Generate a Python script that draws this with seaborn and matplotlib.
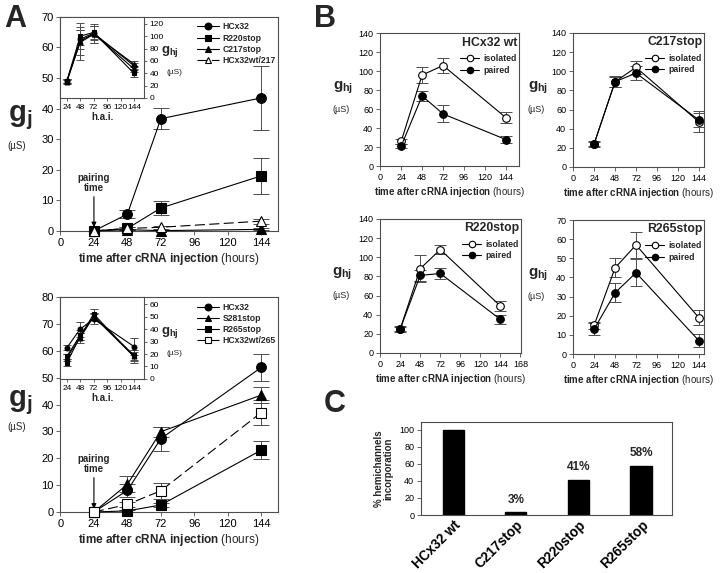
import numpy as np
import matplotlib
matplotlib.use("Agg")
import matplotlib.pyplot as plt
import seaborn as sns

# ---- data ----
hours = [24, 48, 72, 144]

# panel A top: gj (uS)
a1_hcx32 = [0, 5.5, 36.7, 43.5]
a1_hcx32_err = [0, 1.3, 3.5, 10.5]
a1_r220 = [0, 0.8, 7.5, 18.0]
a1_r220_err = [0, 0.5, 2.2, 5.8]
a1_c217 = [0, 0.4, 0.1, 0.5]
a1_c217_err = [0, 0.2, 0.1, 0.3]
a1_wt217 = [0, 0.8, 1.2, 3.2]
a1_wt217_err = [0, 0.4, 0.5, 0.8]
a1_labels = ["HCx32", "R220stop", "C217stop", "HCx32wt/217"]

# panel A top inset: ghj (uS)
a1i_hcx32 = [27, 95, 105, 52]
a1i_r220 = [27, 100, 106, 40]
a1i_c217 = [26, 92, 104, 47]
a1i_wt217 = [27, 90, 103, 55]
a1i_err = [[3, 15, 12, 5], [3, 14, 10, 6], [3, 30, 15, 5], [3, 20, 14, 5]]

# panel A bottom: gj (uS)
a2_hcx32 = [0, 8.0, 27.3, 53.8]
a2_hcx32_err = [0, 2.5, 4.5, 5.0]
a2_s281 = [0, 10.3, 29.9, 43.5]
a2_s281_err = [0, 3.0, 1.8, 3.0]
a2_r265 = [0, 0.4, 2.6, 23.0]
a2_r265_err = [0, 0.3, 0.8, 3.4]
a2_wt265 = [0, 2.8, 7.9, 37.0]
a2_wt265_err = [0, 1.0, 3.0, 4.8]
a2_labels = ["HCx32", "S281stop", "R265stop", "HCx32wt/265"]

# panel A bottom inset: ghj (uS)
a2i_hcx32 = [25, 40, 48, 26]
a2i_s281 = [17, 33, 50, 18]
a2i_r265 = [13, 34, 52, 18]
a2i_wt265 = [18, 35, 50, 19]
a2i_err = [[2, 6, 4, 7], [3, 4, 3, 4], [3, 3, 4, 5], [2, 4, 3, 4]]

# panel B: ghj (uS), isolated vs paired
b_names = ["HCx32 wt", "C217stop", "R220stop", "R265stop"]
b_isolated = [[26, 96, 106, 51], [24, 89, 104, 47], [25, 88, 108, 49], [15, 45, 57, 19]]
b_isolated_err = [[3, 8, 8, 6], [3, 6, 7, 11], [3, 14, 5, 5], [2, 5, 7, 4]]
b_paired = [[21, 74, 55, 28], [24, 89, 98, 49], [25, 81, 83, 35], [13, 32, 42.5, 7]]
b_paired_err = [[2, 5, 9, 4], [2, 5, 7, 7], [2, 6, 6, 5], [3, 5, 7, 3.5]]

# panel C
c_names = ["HCx32 wt", "C217stop", "R220stop", "R265stop"]
c_values = [100, 3, 41, 58]
c_text = ["", "3%", "41%", "58%"]

# ---- style ----
sns.set_theme(style="ticks")
plt.rcParams["font.family"] = ["Liberation Sans", "DejaVu Sans"]
plt.rcParams["mathtext.fontset"] = "custom"
plt.rcParams["mathtext.rm"] = "Liberation Sans"
plt.rcParams["mathtext.bf"] = "Liberation Sans:bold"
plt.rcParams["mathtext.it"] = "Liberation Sans:italic"
plt.rcParams["axes.edgecolor"] = "0.3"
plt.rcParams["axes.linewidth"] = 0.8
plt.rcParams["xtick.color"] = "0.3"
plt.rcParams["ytick.color"] = "0.3"
plt.rcParams["xtick.labelcolor"] = "black"
plt.rcParams["ytick.labelcolor"] = "black"

XLAB = r"$\mathbf{time\ after\ cRNA\ injection}$ (hours)"


def series(ax, x, y, err, marker, filled=True, dashed=False, ms=7, cap=5, label=None):
    ax.errorbar(x, y, yerr=err, fmt="none", ecolor="0.3", elinewidth=0.7,
                capsize=cap, capthick=0.7, zorder=2)
    sns.lineplot(x=x, y=y, ax=ax, color="black", lw=0.8, marker=marker, ms=ms,
                 mfc="black" if filled else "white", mec="black", mew=0.8,
                 linestyle=(0, (9, 4)) if dashed else "-", label=label,
                 zorder=3, clip_on=False, errorbar=None)


def ticks(ax, size):
    ax.tick_params(direction="out", length=3, width=0.6, labelsize=size, pad=2)


fig = plt.figure(figsize=(7.2, 5.73), dpi=100)

# ---------------- panel A ----------------
a_sets = [
    dict(rect=[0.084, 0.597, 0.302, 0.3735], inset=[0.084, 0.829, 0.116, 0.1414],
         ylim=70, iylim=131, ityck=[0, 20, 40, 60, 80, 100, 120],
         data=[(a1_hcx32, a1_hcx32_err, "o", True, False),
               (a1_r220, a1_r220_err, "s", True, False),
               (a1_c217, a1_c217_err, "^", True, False),
               (a1_wt217, a1_wt217_err, "^", False, True)],
         idata=[a1i_hcx32, a1i_r220, a1i_c217, a1i_wt217], ierr=a1i_err,
         labels=a1_labels, ly=(0.53, 0.397)),
    dict(rect=[0.084, 0.1065, 0.302, 0.375], inset=[0.084, 0.3386, 0.116, 0.143],
         ylim=80, iylim=65.6, ityck=[0, 10, 20, 30, 40, 50, 60],
         data=[(a2_hcx32, a2_hcx32_err, "o", True, False),
               (a2_s281, a2_s281_err, "^", True, False),
               (a2_r265, a2_r265_err, "s", True, False),
               (a2_wt265, a2_wt265_err, "s", False, True)],
         idata=[a2i_hcx32, a2i_s281, a2i_r265, a2i_wt265], ierr=a2i_err,
         labels=a2_labels, ly=(0.51, 0.395)),
]

for s in a_sets:
    ax = fig.add_axes(s["rect"])
    for (y, e, m, f, d), lab in zip(s["data"], s["labels"]):
        series(ax, hours, y, e, m, filled=f, dashed=d, ms=7, cap=6, label=lab)
    ax.set_xlim(0, 156)
    ax.set_ylim(0, s["ylim"])
    ax.set_xticks([0, 24, 48, 72, 96, 120, 144])
    ax.set_yticks(np.arange(0, s["ylim"] + 1, 10))
    ticks(ax, 8)
    ax.set_xlabel(XLAB, fontsize=8.5, labelpad=2)
    ax.set_ylabel("")
    ax.legend(loc="upper left", bbox_to_anchor=(0.61, 0.99), frameon=False,
              prop={"weight": "bold", "size": 6.2}, handlelength=2.6,
              markerscale=0.7, labelspacing=0.25, handletextpad=0.4,
              borderaxespad=0)
    ax.text(-0.185, s["ly"][0], r"$\mathbf{g}_\mathbf{j}$", transform=ax.transAxes,
            fontsize=21, ha="center", va="center")
    ax.text(-0.2, s["ly"][1], "(\u00b5S)", transform=ax.transAxes,
            fontsize=7, ha="center", va="center")
    ax.annotate("pairing\ntime", xy=(24, 1.2), xytext=(24, s["ylim"] * 0.175),
                ha="center", va="bottom", fontsize=7, fontweight="bold",
                linespacing=1.0,
                arrowprops=dict(arrowstyle="-|>", color="black", lw=0.8,
                                mutation_scale=7, shrinkA=0, shrinkB=0))

    ins = fig.add_axes(s["inset"])
    ins.set_facecolor("white")
    for (y, e, m, f, d), iy, ie in zip(s["data"], s["idata"], s["ierr"]):
        series(ins, hours, iy, ie, m, filled=True, dashed=False, ms=3.5, cap=3)
    if ins.get_legend():
        ins.get_legend().remove()
    ins.set_xlim(12.7, 162)
    ins.set_ylim(0, s["iylim"])
    ins.set_xticks([24, 48, 72, 96, 120, 144])
    ins.set_yticks(s["ityck"])
    ins.yaxis.tick_right()
    ins.tick_params(direction="out", length=2.5, width=0.6, labelsize=6, pad=1.5)
    ins.tick_params(axis="x", labelsize=6)
    ins.set_xlabel("h.a.i.", fontsize=7, fontweight="bold", labelpad=1)
    ins.set_ylabel("")
    ins.text(1.31, 0.57, r"$\mathbf{g}_\mathbf{hj}$", transform=ins.transAxes,
             fontsize=9.5, ha="center", va="center")
    ins.text(1.37, 0.31, "(\u00b5S)", transform=ins.transAxes,
             fontsize=6, ha="center", va="center")

# ---------------- panel B ----------------
b_rects = [[0.528, 0.710, 0.193, 0.232], [0.796, 0.7086, 0.182, 0.234],
           [0.528, 0.384, 0.196, 0.234], [0.796, 0.382, 0.182, 0.234]]
b_xmax = [159, 150, 169, 150]
b_ymax = [140, 140, 140, 70]

for i, rect in enumerate(b_rects):
    ax = fig.add_axes(rect)
    series(ax, hours, b_isolated[i], b_isolated_err[i], "o", filled=False,
           ms=5.5, cap=4.5, label="isolated")
    series(ax, hours, b_paired[i], b_paired_err[i], "o", filled=True,
           ms=5.5, cap=4.5, label="paired")
    ax.set_xlim(0, b_xmax[i])
    ax.set_ylim(0, b_ymax[i])
    xt = [0, 24, 48, 72, 96, 120, 144] + ([168] if b_xmax[i] > 168 else [])
    ax.set_xticks(xt)
    ax.set_yticks(np.arange(0, b_ymax[i] + 1, b_ymax[i] // 7))
    ticks(ax, 6.5)
    ax.set_xlabel(XLAB, fontsize=7, labelpad=2)
    ax.set_ylabel("")
    ax.text(0.985, 0.975, b_names[i], transform=ax.transAxes, ha="right",
            va="top", fontsize=8.8, fontweight="bold")
    ax.legend(loc="upper right", bbox_to_anchor=(1.01, 0.87), frameon=False,
              prop={"weight": "bold", "size": 6.3}, handlelength=2.2,
              markerscale=0.85, labelspacing=0.3, handletextpad=0.5,
              borderaxespad=0)
    ax.text(-0.27, 0.59, r"$\mathbf{g}_\mathbf{hj}$", transform=ax.transAxes,
            fontsize=11, ha="center", va="center")
    ax.text(-0.28, 0.43, "(\u00b5S)", transform=ax.transAxes,
            fontsize=6.5, ha="center", va="center")

# ---------------- panel C ----------------
axc = fig.add_axes([0.585, 0.1012, 0.349, 0.162])
sns.barplot(x=c_names, y=c_values, ax=axc, color="black", saturation=1,
            width=0.34, edgecolor="black")
axc.set_xlim(-0.51, 3.5)
axc.set_ylim(0, 109)
axc.set_yticks([0, 20, 40, 60, 80, 100])
ticks(axc, 6.5)
axc.tick_params(axis="x", length=0, pad=2)
axc.set_xticks(range(len(c_names)))
axc.set_xticklabels(c_names, rotation=45, ha="right", rotation_mode="anchor",
                    fontsize=9.8, fontweight="bold")
for i, (v, t) in enumerate(zip(c_values, c_text)):
    if t:
        axc.text(i, v + 8, t, ha="center", va="bottom", fontsize=8.5,
                 fontweight="bold")
axc.set_ylabel("% hemichannels\nincorporation", fontsize=7, fontweight="bold",
               linespacing=1.0, labelpad=4)
axc.set_xlabel("")

# panel letters
fig.text(0.006, 0.953, "A", fontsize=22, fontweight="bold")
fig.text(0.436, 0.953, "B", fontsize=22, fontweight="bold")
fig.text(0.45, 0.281, "C", fontsize=22, fontweight="bold")

fig.savefig("out.png", dpi=100)
